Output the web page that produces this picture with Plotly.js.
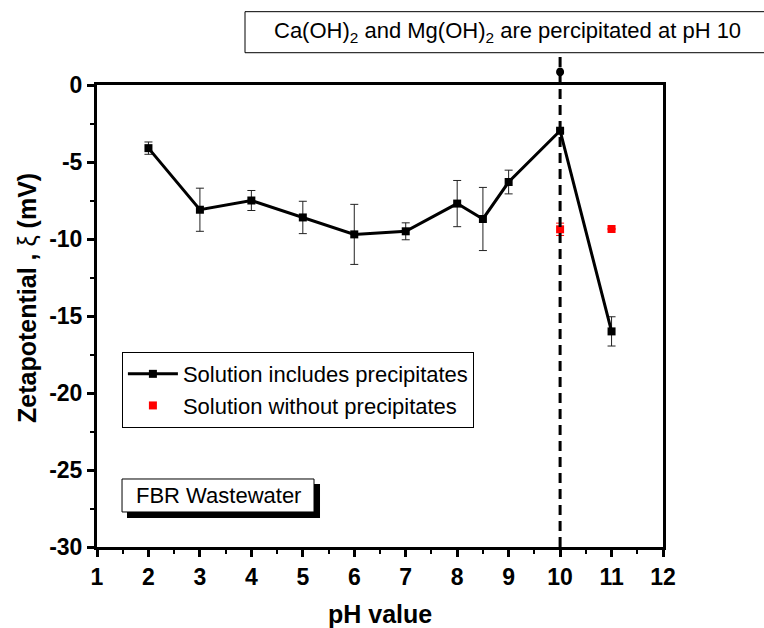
<!DOCTYPE html>
<html>
<head>
<meta charset="utf-8">
<script src="https://cdn.plot.ly/plotly-3.0.1.min.js"></script>
<style>html,body{margin:0;padding:0;background:#fff;}#chart{width:764px;height:628px;}</style>
</head>
<body>
<div id="chart"></div>
<script>
// Data
const phWith = [2, 3, 4, 5, 6, 7, 8, 8.5, 9, 10, 11];
const zetaWith = [-4.1, -8.1, -7.5, -8.6, -9.7, -9.5, -7.7, -8.7, -6.3, -2.97, -16.0];
const errWith = [0.4, 1.4, 0.65, 1.05, 1.95, 0.55, 1.5, 2.05, 0.77, 0.1, 0.95];
const phWithout = [10, 11];
const zetaWithout = [-9.37, -9.35];
const errWithout = [0.4, 0];
const markerX = [10];
const markerY = [0.85];
const xTicks = [1, 2, 3, 4, 5, 6, 7, 8, 9, 10, 11, 12];
const yTicks = [0, -5, -10, -15, -20, -25, -30];
const yRange = [-30, 0];

const FONT = 'Liberation Sans, Arial, sans-serif';

// dot above the frame: position as a fraction of the y axis range
const dotPaperY = (markerY[0] - yRange[0]) / (yRange[1] - yRange[0]);

const traces = [
  {
    x: phWith, y: zetaWith, type: 'scatter', mode: 'lines+markers',
    name: 'Solution includes precipitates',
    line: {color: '#000', width: 3},
    marker: {symbol: 'square', size: 8, color: '#000'},
    error_y: {type: 'data', array: errWith, visible: true, color: '#222', thickness: 1, width: 4}
  },
  {
    x: phWithout, y: zetaWithout, type: 'scatter', mode: 'markers',
    name: 'Solution without precipitates',
    marker: {symbol: 'square', size: 8, color: '#ff0000'},
    error_y: {type: 'data', array: errWithout, visible: true, color: '#ff0000', thickness: 1, width: 4}
  }
];

const layout = {
  width: 764, height: 628,
  margin: {l: 97, r: 101, t: 85, b: 81},
  paper_bgcolor: '#fff', plot_bgcolor: '#fff',
  font: {family: FONT, color: '#000'},
  showlegend: true,
  legend: {
    x: 0.044, y: 0.422, xanchor: 'left', yanchor: 'top',
    bgcolor: '#fff', bordercolor: '#000', borderwidth: 1,
    font: {family: FONT, size: 22, color: '#000'},
    itemwidth: 50, tracegroupgap: 0
  },
  xaxis: {
    range: [1, 12], tickvals: xTicks, ticktext: xTicks.map(String),
    showgrid: false, zeroline: false,
    showline: true, linewidth: 3, linecolor: '#000', mirror: true,
    ticks: 'outside', ticklen: 7, tickwidth: 3, tickcolor: '#000',
    minor: {ticks: 'outside', ticklen: 4, tickwidth: 2, tickcolor: '#000', dtick: 0.5, tick0: 1.5, showgrid: false},
    tickfont: {family: FONT, size: 23, color: '#000', weight: 'bold'}
  },
  yaxis: {
    range: yRange, tickvals: yTicks, ticktext: yTicks.map(String),
    showgrid: false, zeroline: false,
    showline: true, linewidth: 3, linecolor: '#000', mirror: true,
    ticks: 'outside', ticklen: 7, tickwidth: 3, tickcolor: '#000',
    minor: {ticks: 'outside', ticklen: 4, tickwidth: 2, tickcolor: '#000', dtick: 2.5, tick0: -2.5, showgrid: false},
    tickfont: {family: FONT, size: 23, color: '#000', weight: 'bold'}
  },
  shapes: [
    // dashed vertical line at pH 10
    {type: 'line', xref: 'x', yref: 'paper', x0: 10, x1: 10, y0: 0, y1: 1.07,
     line: {color: '#000', width: 3, dash: '10px,6px'}},
    // dot on the dashed line above the frame
    {type: 'circle', xref: 'x', yref: 'paper', xsizemode: 'pixel', ysizemode: 'pixel',
     xanchor: markerX[0], yanchor: dotPaperY, x0: -4, x1: 4, y0: -4.5, y1: 4.5,
     fillcolor: '#000', line: {color: '#000', width: 0}, layer: 'above'},
    // top annotation box
    {type: 'rect', xref: 'paper', yref: 'paper', x0: 0.2615, x1: 1.3, y0: 1.0699, y1: 1.1587,
     line: {color: '#000', width: 1}, fillcolor: '#fff', layer: 'above'},
    // FBR box shadow
    {type: 'rect', xref: 'paper', yref: 'paper', x0: 0.053, x1: 0.394, y0: 0.0628, y1: 0.1364,
     line: {color: '#000', width: 0}, fillcolor: '#000', layer: 'above'},
    // FBR box
    {type: 'rect', xref: 'paper', yref: 'paper', x0: 0.0442, x1: 0.3834, y0: 0.0758, y1: 0.1472,
     line: {color: '#000', width: 1}, fillcolor: '#fff', layer: 'above'}
  ],
  annotations: [
    {xref: 'paper', yref: 'paper', x: 0.7244, y: 1.1147, xanchor: 'center', yanchor: 'middle',
     showarrow: false, text: 'Ca(OH)<sub>2</sub> and Mg(OH)<sub>2</sub> are percipitated at pH 10',
     font: {family: FONT, size: 22, color: '#000'}},
    {xref: 'paper', yref: 'paper', x: 0.2138, y: 0.1115, xanchor: 'center', yanchor: 'middle',
     showarrow: false, text: 'FBR Wastewater',
     font: {family: FONT, size: 22, color: '#000'}},
    // axis titles
    {xref: 'paper', yref: 'paper', x: 0.5, y: -0.145, xanchor: 'center', yanchor: 'middle',
     showarrow: false, text: '<b>pH value</b>',
     font: {family: FONT, size: 25, color: '#000'}},
    {xref: 'paper', yref: 'paper', x: -0.1237, y: 0.539, xanchor: 'center', yanchor: 'middle',
     showarrow: false, textangle: -90, text: '<b>Zetapotential , </b>ξ<b> (mV)</b>',
     font: {family: FONT, size: 25, color: '#000'}}
  ]
};

Plotly.newPlot('chart', traces, layout, {displayModeBar: false, staticPlot: true});
</script>
</body>
</html>
